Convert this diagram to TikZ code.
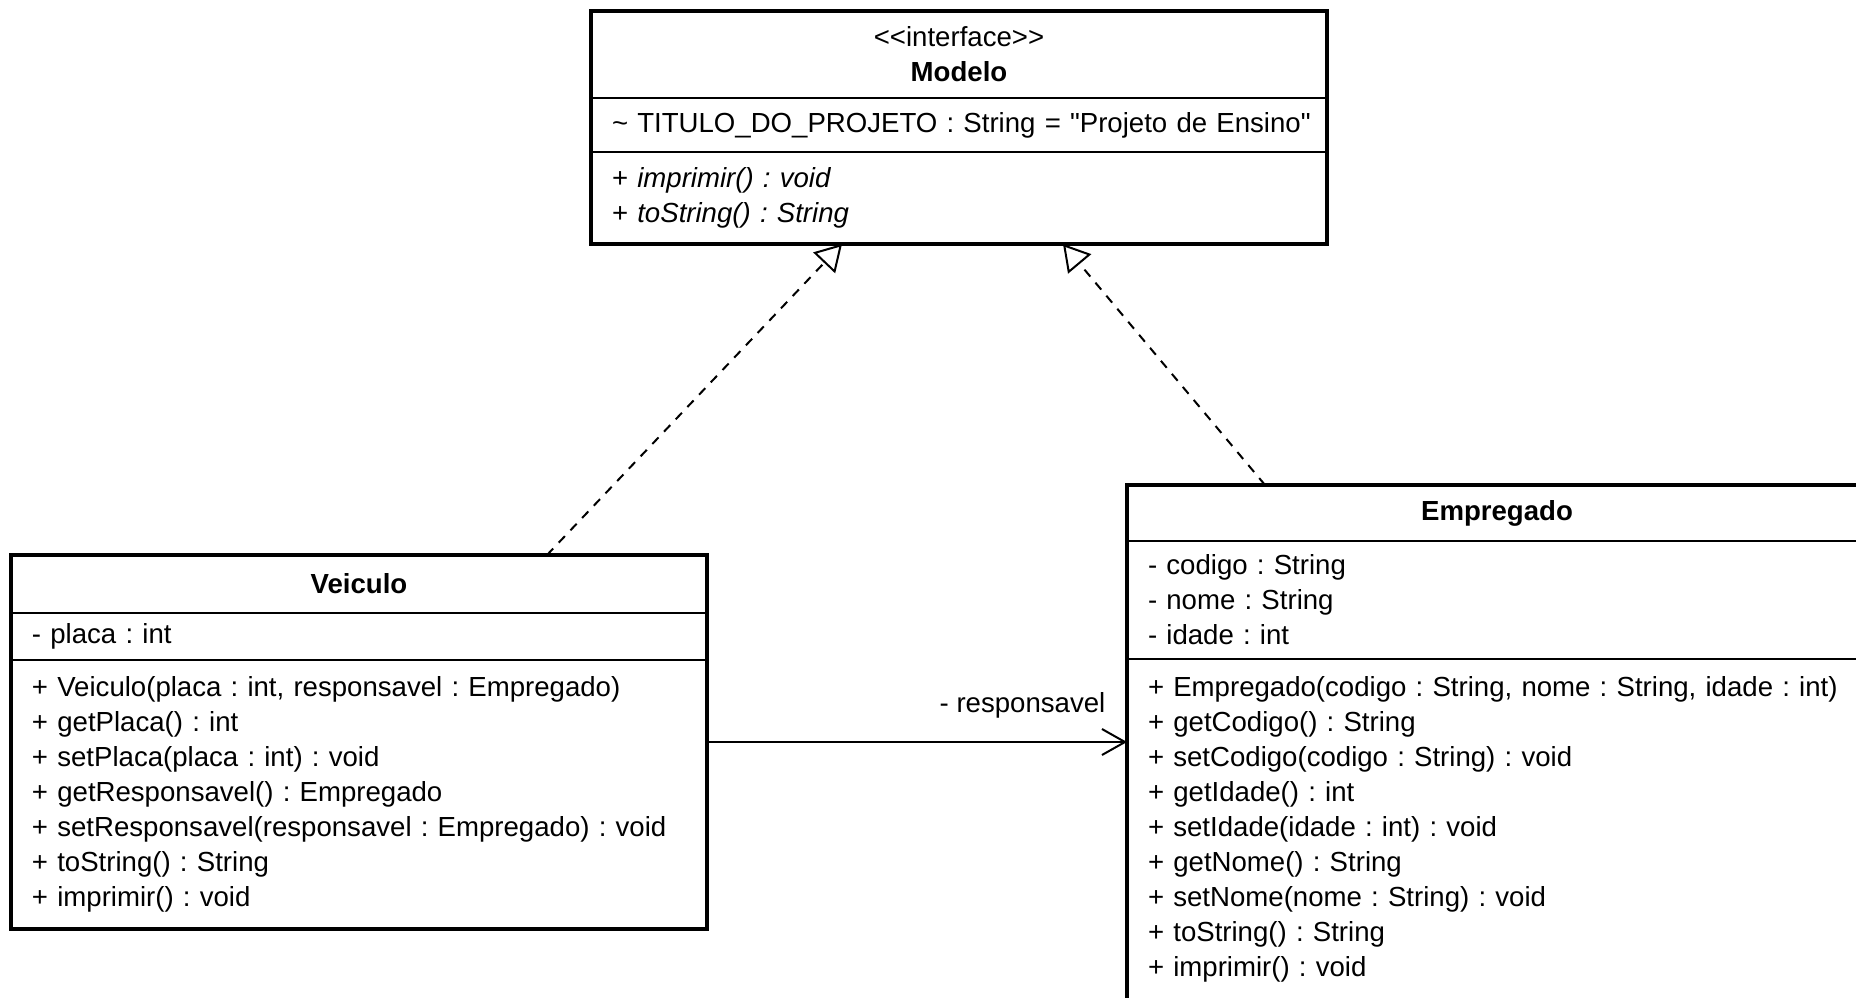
\documentclass[tikz,border=0pt]{standalone}
\usepackage{fontspec}
\setmainfont{Liberation Sans}
\usetikzlibrary{arrows.meta,positioning}
\newcommand\umltext{\fontsize{13.8}{17.5}\selectfont\frenchspacing}

\begin{document}
\begin{tikzpicture}[
  x=0.5pt, y=-0.5pt,
  every node/.style={font=\umltext, outer sep=0pt},
  classpart/.style={draw, line width=0.85pt, inner xsep=10.5pt, inner ysep=0pt, align=left},
  classhead/.style={classpart, align=center, font=\umltext\bfseries},
  classframe/.style={draw, line width=1.8pt},
  realize/.style={line width=1pt, dash pattern=on 4.5pt off 4pt, -{Triangle[open,length=13pt,width=15pt]}},
  assoc/.style={line width=1pt, -{Straight Barb[length=11.5pt,width=13pt]}}
]
  \useasboundingbox (0,0) rectangle (1856,997);
  \clip (0,0) rectangle (1856,997);

  \node[classhead, text width=347pt, minimum height=43.5pt, anchor=north west] (modelo) at (591,11)
    {\textmd{\textless{}\textless{}interface\textgreater{}\textgreater{}}\\Modelo};
  \node[classpart, text width=347pt, minimum height=27pt, below=0pt of modelo] (modeloattr)
    {\mbox{\textasciitilde{} TITULO\_DO\_PROJETO : String = \textquotedbl{}Projeto de Ensino\textquotedbl{}}};
  \node[classpart, text width=347pt, minimum height=46pt, below=0pt of modeloattr] (modelometh)
    {+ \textit{imprimir() : void}\\+ \textit{toString() : String}};

  \node[classhead, text width=327pt, minimum height=29pt, anchor=north west] (veiculo) at (11,555) {Veiculo};
  \node[classpart, text width=327pt, minimum height=23.5pt, below=0pt of veiculo] (veiculoattr) {- placa : int};
  \node[classpart, text width=327pt, minimum height=134.5pt, below=0pt of veiculoattr] (veiculometh)
    {+ Veiculo(placa : int, responsavel : Empregado)\\
     + getPlaca() : int\\
     + setPlaca(placa : int) : void\\
     + getResponsavel() : Empregado\\
     + setResponsavel(responsavel : Empregado) : void\\
     + toString() : String\\
     + imprimir() : void};

  \node[classhead, text width=349pt, minimum height=28pt, anchor=north west] (empregado) at (1127,485) {Empregado};
  \node[classpart, text width=349pt, minimum height=59pt, below=0pt of empregado] (empregadoattr)
    {- codigo : String\\- nome : String\\- idade : int};
  \node[classpart, text width=349pt, minimum height=170.5pt, below=0pt of empregadoattr] (empregadometh)
    {+ Empregado(codigo : String, nome : String, idade : int)\\
     + getCodigo() : String\\
     + setCodigo(codigo : String) : void\\
     + getIdade() : int\\
     + setIdade(idade : int) : void\\
     + getNome() : String\\
     + setNome(nome : String) : void\\
     + toString() : String\\
     + imprimir() : void};

  \draw[classframe] (modelo.north west) rectangle (modelometh.south east);
  \draw[classframe] (veiculo.north west) rectangle (veiculometh.south east);
  \draw[classframe] (empregado.north west) rectangle (empregadometh.south east);

  \draw[realize] ([xshift=94pt]veiculo.north) -- ([xshift=-58.5pt]modelometh.south);
  \draw[realize] ([xshift=-116pt]empregado.north) -- ([xshift=52pt]modelometh.south);
  \draw[assoc] ([yshift=26.25pt]veiculometh.east) coordinate (resp) -- (resp -| empregadometh.west)
    node[anchor=base east, xshift=-7.5pt, yshift=15pt] {- responsavel};
\end{tikzpicture}
\end{document}
